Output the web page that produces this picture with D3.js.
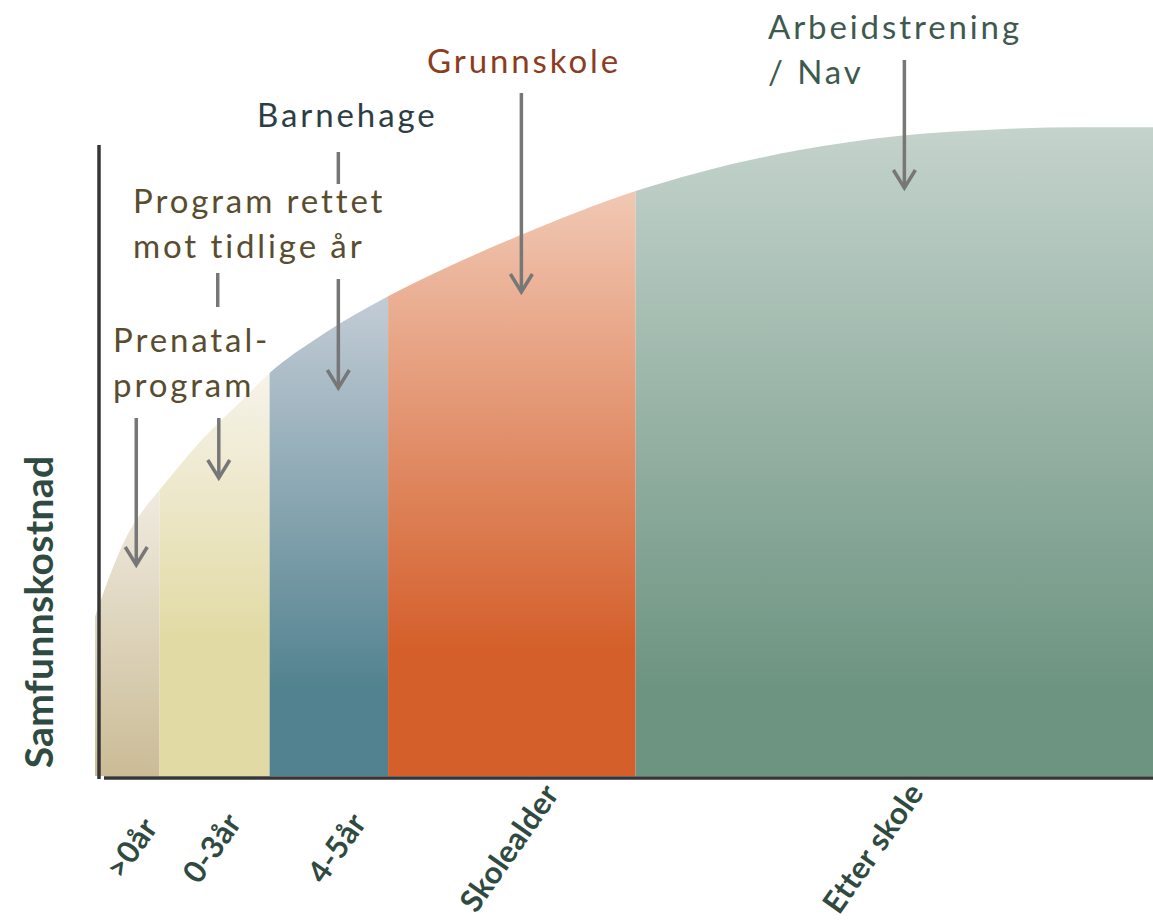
<!DOCTYPE html>
<html>
<head>
<meta charset="utf-8">
<script src="https://cdn.jsdelivr.net/npm/d3@7"></script>
<style>
  body { margin: 0; background: #fff; }
  svg { display: block; font-family: Lato, "Open Sans", sans-serif; }
</style>
</head>
<body>
<svg id="chart" width="1153" height="923"></svg>
<script>
// kostnadskurve (alder -> samfunnskostnad, relative enheter)
const curveX = [0, 0.95, 1.9, 3.3, 4.7, 6.1, 9.9, 13.7, 16.5, 21.3, 27.7, 33.6, 40.2, 45.8, 51.1, 57.2, 66.6, 76.1, 85.5, 93.1, 100];
const curveY = [24.5, 28.9, 32.9, 37.8, 41.2, 44, 51.4, 57.5, 62, 67.7, 73.8, 78.5, 83.2, 86.9, 90, 92.9, 96.3, 98.5, 99.5, 99.8, 99.8];

// faser
const phaseStart = [0, 6.1, 16.5, 27.7, 51.1];
const phaseEnd = [6.1, 16.5, 27.7, 51.1, 100];
const phaseTop = ['#f0ebe0', '#f6f3ea', '#c3ccd6', '#f1c8b4', '#c4d3cc'];
const phaseBottom = ['#cbbc96', '#e2daa4', '#52828f', '#d45f2b', '#6d9481'];
const phaseFadeTo = [776, 640, 690, 650, 690]; // hvor gradienten når bunnfargen (px)

// akse-etiketter
const tickLabels = ['>0år', '0-3år', '4-5år', 'Skolealder', 'Etter skole'];
const tickPos = [3.4, 11, 22.8, 39.1, 73.5];

const svg = d3.select('#chart');
const x = d3.scaleLinear().domain([0, 100]).range([95, 1153]);
const y = d3.scaleLinear().domain([0, 100]).range([776, 126]);

const points = curveX.map((d, i) => ({ x: d, y: curveY[i] }));

const area = d3.area()
    .x(d => x(d.x))
    .y0(y(0))
    .y1(d => y(d.y))
    .curve(d3.curveMonotoneX);

const defs = svg.append('defs');
defs.append('clipPath').attr('id', 'areaClip')
    .append('path').attr('d', area(points));

// gradient per fase, fra toppen av kurven i fasen
phaseStart.forEach((s, i) => {
    const topVal = d3.max(points.filter(p => p.x >= s && p.x <= phaseEnd[i]), p => p.y);
    const g = defs.append('linearGradient')
        .attr('id', 'grad' + i)
        .attr('gradientUnits', 'userSpaceOnUse')
        .attr('x1', 0).attr('x2', 0)
        .attr('y1', y(topVal)).attr('y2', phaseFadeTo[i]);
    g.append('stop').attr('offset', 0).attr('stop-color', phaseTop[i]);
    g.append('stop').attr('offset', 1).attr('stop-color', phaseBottom[i]);
});

svg.append('g')
    .attr('clip-path', 'url(#areaClip)')
    .selectAll('rect')
    .data(phaseStart)
    .enter().append('rect')
    .attr('x', (d, i) => x(d))
    .attr('width', (d, i) => x(phaseEnd[i]) - x(d))
    .attr('y', y(100))
    .attr('height', y(0) - y(100))
    .attr('fill', (d, i) => `url(#grad${i})`);

// akser
svg.append('line')
    .attr('x1', 99).attr('x2', 99)
    .attr('y1', 145).attr('y2', 779)
    .attr('stroke', '#363636').attr('stroke-width', 3.5);

const xAxis = svg.append('g')
    .attr('transform', 'translate(0,778)')
    .call(d3.axisBottom(x)
        .tickValues(tickPos)
        .tickFormat((d, i) => tickLabels[i])
        .tickSize(0));
xAxis.select('.domain').remove();
xAxis.append('line')
    .attr('x1', 104).attr('x2', 1153)
    .attr('y1', 0).attr('y2', 0)
    .attr('stroke', '#363636').attr('stroke-width', 3.5);
xAxis.selectAll('.tick text')
    .attr('y', 0).attr('dy', '0.35em')
    .attr('transform', 'translate(0,70) rotate(-55)')
    .attr('text-anchor', 'middle')
    .attr('font-family', 'Lato, sans-serif')
    .attr('font-size', 31)
    .attr('font-weight', 700)
    .attr('letter-spacing', 0.3)
    .attr('fill', '#2f4a41');

svg.append('text')
    .attr('transform', 'translate(53,612) rotate(-90)')
    .attr('text-anchor', 'middle')
    .attr('font-size', 39)
    .attr('font-weight', 700)
    .attr('letter-spacing', 0.3)
    .attr('fill', '#2f4a41')
    .text('Samfunnskostnad');

// annoteringer
const notes = [
    { lines: ['Prenatal-', 'program'], tx: 113, ty: 352, color: '#5a4d2f' },
    { lines: ['Program rettet', 'mot tidlige år'], tx: 133, ty: 213, color: '#5a4d2f' },
    { lines: ['Barnehage'], tx: 257, ty: 127, color: '#2c3e45' },
    { lines: ['Grunnskole'], tx: 427, ty: 73, color: '#8b3d22' },
    { lines: ['Arbeidstrening', '/ Nav'], tx: 768, ty: 39, color: '#3e5a4f' }
];

notes.forEach(n => {
    const t = svg.append('text')
        .attr('x', n.tx).attr('y', n.ty)
        .attr('font-size', 33)
        .attr('letter-spacing', 2.9)
        .attr('fill', n.color);
    n.lines.forEach((l, i) => {
        t.append('tspan').attr('x', n.tx).attr('dy', i === 0 ? 0 : 45).text(l);
    });
});

// piler (x i dataenheter, y i piksler)
const arrows = [
    { x: 3.9, y1: 418, y2: 565, head: true },
    { x: 11.6, y1: 273, y2: 307, head: false },
    { x: 11.7, y1: 418, y2: 478, head: true },
    { x: 23, y1: 152, y2: 184, head: false },
    { x: 23, y1: 279, y2: 388, head: true },
    { x: 40.3, y1: 93, y2: 292, head: true },
    { x: 76.5, y1: 60, y2: 188, head: true }
];

const arrowG = svg.append('g')
    .attr('stroke', '#777')
    .attr('stroke-width', 3.5)
    .attr('fill', 'none');

arrows.forEach(a => {
    const ax = x(a.x);
    arrowG.append('line')
        .attr('x1', ax).attr('x2', ax)
        .attr('y1', a.y1).attr('y2', a.head ? a.y2 - 1 : a.y2);
    if (a.head) {
        arrowG.append('path')
            .attr('stroke-linejoin', 'miter')
            .attr('d', `M${ax - 11},${a.y2 - 18} L${ax},${a.y2} L${ax + 11},${a.y2 - 18}`);
    }
});
</script>
</body>
</html>
